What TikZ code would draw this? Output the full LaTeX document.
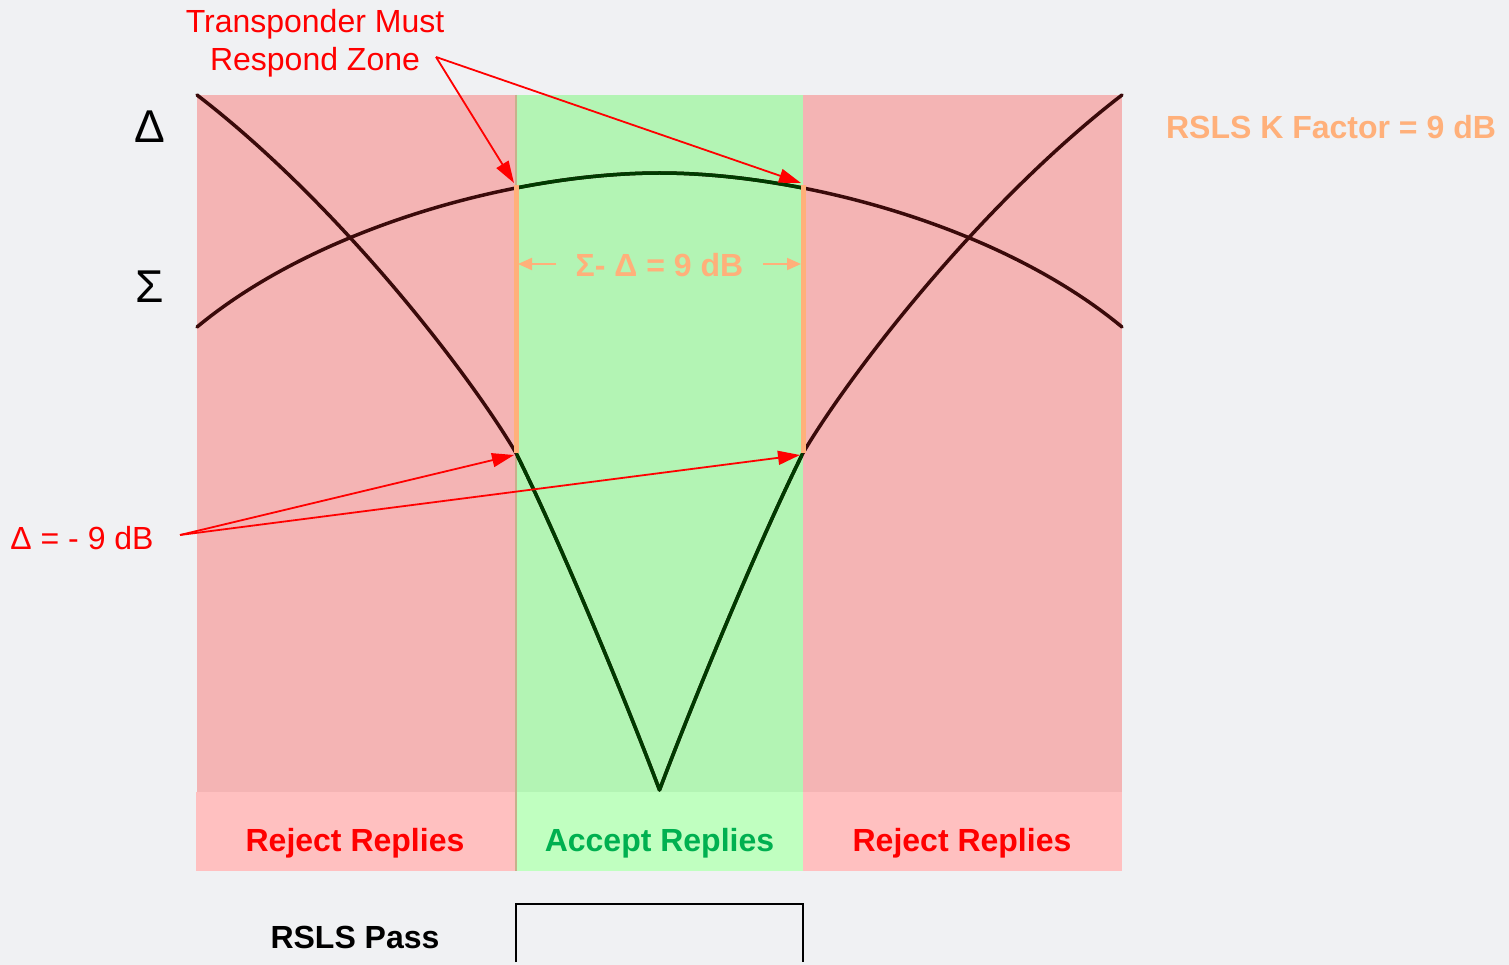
\documentclass[tikz,border=0pt]{standalone}
\usepackage{fontspec}
\setmainfont{Liberation Sans}
\usetikzlibrary{arrows.meta}
\definecolor{bgcol}{RGB}{240,241,243}
\definecolor{rejtop}{RGB}{244,180,180}
\definecolor{rejbot}{RGB}{255,192,192}
\definecolor{acctop}{RGB}{179,244,180}
\definecolor{accbot}{RGB}{192,255,192}
\definecolor{kcol}{RGB}{255,176,122}
\definecolor{accgreen}{RGB}{0,176,80}
\definecolor{curvered}{RGB}{58,10,10}
\definecolor{curvegreen}{RGB}{0,58,0}
\definecolor{edgetan}{RGB}{200,176,140}

\newcommand{\sumbeam}{(197,327) .. controls (320,225) and (520,173) .. (659.5,173) .. controls (799,173) and (999,225) .. (1122,327)}
\newcommand{\diffbeam}{(197,95) .. controls (340,205) and (470,375) .. (516,453) .. controls (561,543) and (629.5,710) .. (659.5,790) .. controls (689.5,710) and (758,543) .. (803,453) .. controls (849,375) and (979,205) .. (1122,95)}

\begin{document}
\begin{tikzpicture}[x=1pt,y=1pt,yscale=-1,
  txt/.style={inner sep=0pt,font=\fontsize{32}{38}\selectfont},
  boldtxt/.style={inner sep=0pt,font=\bfseries\fontsize{32}{38}\selectfont},
  bigsym/.style={inner sep=0pt,font=\fontsize{46}{50}\selectfont},
  callout/.style={draw=red,line width=1.8pt,-{Triangle[length=22pt,width=14pt]}},
  kline/.style={draw=kcol,line width=5pt},
  karrow/.style={draw=kcol,line width=2pt,-{Triangle[length=14pt,width=12pt]}},
  beam/.style={line width=3.5pt,line join=round,line cap=round}]
        \useasboundingbox (0,0) rectangle (1509,965);
        \fill [bgcol] (0,0) rectangle (1509,965);
        \fill [rejtop] (197,95) rectangle (516,792);
        \fill [rejtop] (803,95) rectangle (1122,792);
        \fill [acctop] (516,95) rectangle (803,792);
        \fill [rejbot] (196,792) rectangle (516,871);
        \fill [rejbot] (803,792) rectangle (1122,871);
        \fill [accbot] (516,792) rectangle (803,871);
        \draw [edgetan,line width=1.5pt] (516,95) -- (516,871);
        % beam patterns
        \draw [beam,curvered] \sumbeam;
        \draw [beam,curvered] \diffbeam;
        \begin{scope}
        \clip (516,95) rectangle (803,792);
        \draw [beam,curvegreen] \sumbeam;
        \draw [beam,curvegreen] \diffbeam;
        \end{scope}
        \coordinate (sigL) at (516,185);
        \coordinate (sigR) at (803,185);
        \coordinate (delL) at (516,453);
        \coordinate (delR) at (803,453);
        \draw [kline] (sigL) -- (delL);
        \draw [kline] (sigR) -- (delR);
        % labels
        \node [bigsym] (dsym) at (150,127) {Δ};
        \node [bigsym] (ssym) at (150,287) {Σ};
        \node [boldtxt,text=kcol] (kfac) at (1331,127) {RSLS K Factor = 9 dB};
        \node [boldtxt,text=kcol] (sdiff) at (659.5,265) {Σ- Δ = 9 dB};
        \coordinate (kL) at (518,264);
        \coordinate (kR) at (801,264);
        \draw [karrow] (556,264) -- (kL);
        \draw [karrow] (763,264) -- (kR);
        \node [txt,text=red,align=center] (zone) at (315,43) {Transponder Must\\Respond Zone};
        \node [txt,text=red] (dlab) at (82,538) {Δ = - 9 dB};
        \coordinate (zoneTip) at (436,57);
        \coordinate (dlabTip) at (180,535);
        \draw [callout] (zoneTip) -- (514,183);
        \draw [callout] (zoneTip) -- (801,183);
        \draw [callout] (dlabTip) -- (514,455);
        \draw [callout] (dlabTip) -- (800,455);
        \node [boldtxt,text=red] (rejL) at (355,843) {Reject Replies};
        \node [boldtxt,text=accgreen] (acc) at (659.5,843) {Accept Replies};
        \node [boldtxt,text=red] (rejR) at (962,843) {Reject Replies};
        \node [boldtxt] (pass) at (355,937) {RSLS Pass};
        \draw [line width=2pt] (516,962) -- (516,904) -- (803,904) -- (803,962);
\end{tikzpicture}
\end{document}
